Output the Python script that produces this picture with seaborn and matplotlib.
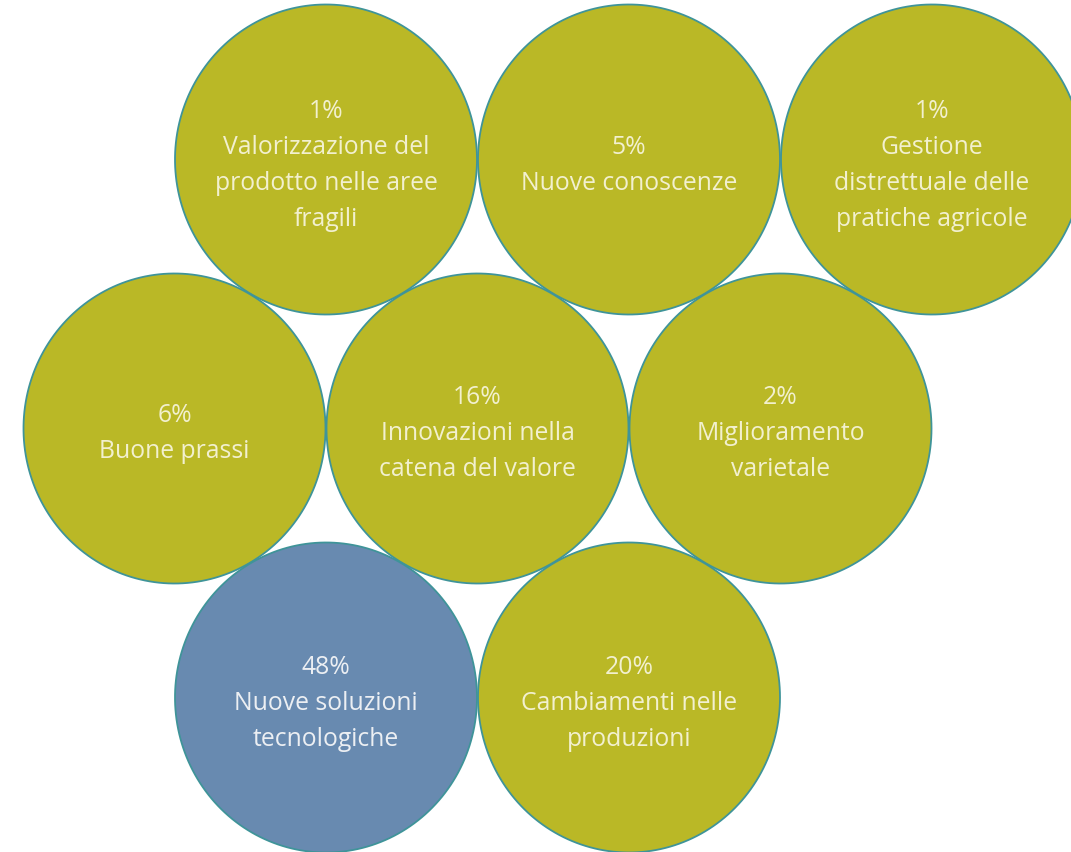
import numpy as np
import pandas as pd
import matplotlib
matplotlib.use("Agg")
import matplotlib.pyplot as plt
from matplotlib.path import Path
from matplotlib.markers import MarkerStyle
import seaborn as sns

# ---- data ----
categories = [
    "Valorizzazione del\nprodotto nelle aree\nfragili",
    "Nuove conoscenze",
    "Gestione\ndistrettuale delle\npratiche agricole",
    "Buone prassi",
    "Innovazioni nella\ncatena del valore",
    "Miglioramento\nvarietale",
    "Nuove soluzioni\ntecnologiche",
    "Cambiamenti nelle\nproduzioni",
]
percent = [1, 5, 1, 6, 16, 2, 48, 20]

# ---- packed layout (hex grid slots) ----
slot_col = [1, 3, 5, 0, 2, 4, 1, 3]
slot_row = [0, 0, 0, 1, 1, 1, 2, 2]

W, H, DPI = 1071, 853, 100
X0, DX = 174.5, 151.5
Y0, DY = 160.5, 269.0
RX, RY = 151.0, 155.0

df = pd.DataFrame({
    "label": categories,
    "pct": percent,
    "x": [X0 + DX * c for c in slot_col],
    "y": [Y0 + DY * r for r in slot_row],
})
df["top"] = np.where(df["pct"] == df["pct"].max(), "max", "other")

sns.set_theme(style="white")
plt.rcParams["font.family"] = ["Open Sans", "DejaVu Sans"]

fig = plt.figure(figsize=(W / DPI, H / DPI), dpi=DPI)
ax = fig.add_axes([0, 0, 1, 1])
ax.set_xlim(0, W)
ax.set_ylim(H, 0)
ax.axis("off")

# ellipse marker (image slightly stretched vertically)
t = np.linspace(0, 2 * np.pi, 200)
verts = np.column_stack([np.cos(t) * RX / RY, np.sin(t)])
ell = MarkerStyle(Path(verts, closed=True))
size_pt = 2 * RY * 72 / DPI

sns.scatterplot(
    data=df, x="x", y="y", hue="top",
    palette={"max": "#688AB0", "other": "#BAB826"},
    marker=ell, s=size_pt ** 2,
    edgecolor="#3F9499", linewidth=1.3,
    legend=False, ax=ax, zorder=2,
)
ax.set_xlim(0, W)
ax.set_ylim(H, 0)

LS = 36
for _, r in df.iterrows():
    lines = [f"{r['pct']}%"] + r["label"].split("\n")
    n = len(lines)
    col = "#ECEFF3" if r["top"] == "max" else "#F2F0CF"
    for i, ln in enumerate(lines):
        ax.text(r["x"], r["y"] + 4.5 + (i - (n - 1) / 2) * LS, ln,
                ha="center", va="center", fontsize=17.8, color=col, zorder=3)

fig.savefig("out.png", dpi=DPI)
